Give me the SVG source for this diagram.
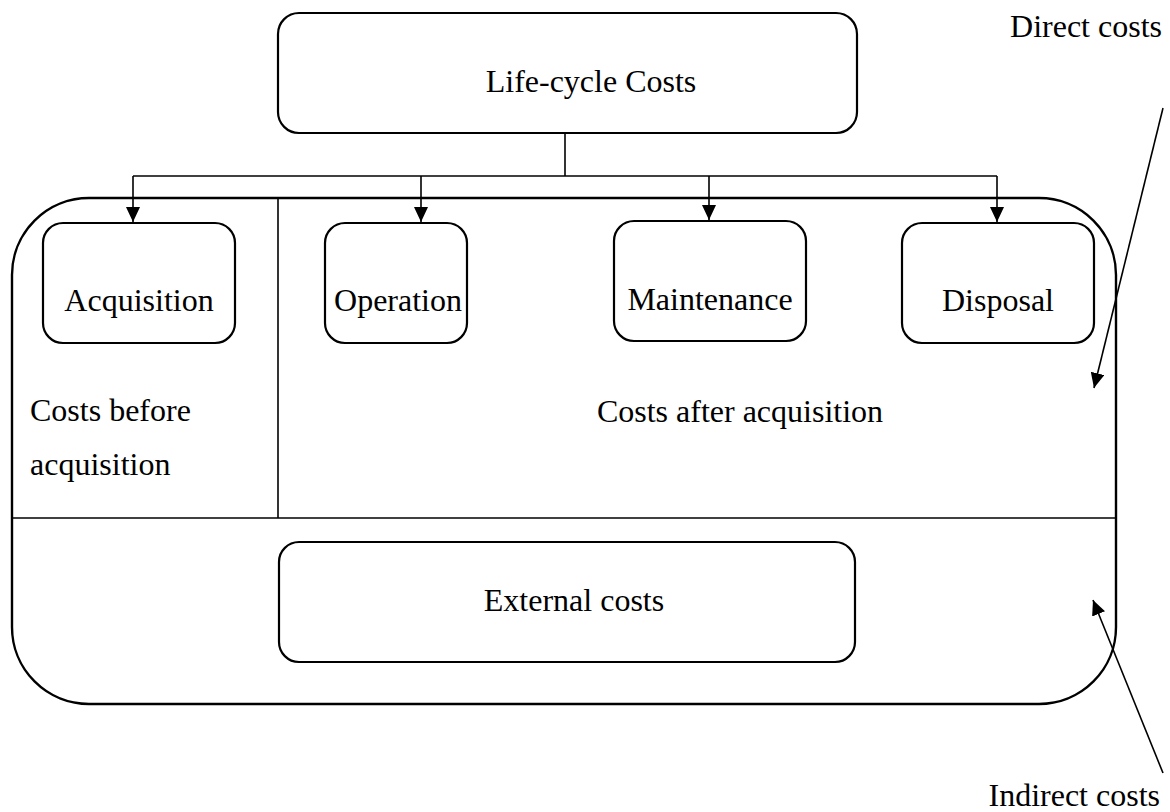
<svg xmlns="http://www.w3.org/2000/svg" width="1170" height="812" viewBox="0 0 1170 812">
  <defs>
    <marker id="head" viewBox="0 0 15 14" refX="15" refY="7" markerWidth="15" markerHeight="14" markerUnits="userSpaceOnUse" orient="auto">
      <path d="M0,0 L15,7 L0,14 Z" fill="#000"/>
    </marker>
    <style>
      .box { fill: #fff; stroke: #000; stroke-width: 2.2; }
      .frame { fill: none; stroke: #000; stroke-width: 2.4; }
      .div { fill: none; stroke: #000; stroke-width: 1.6; }
      .wire { fill: none; stroke: #000; stroke-width: 1.6; }
      text { font-family: "Liberation Serif", "Times New Roman", serif; font-size: 32px; fill: #000; }
    </style>
  </defs>
  <rect width="1170" height="812" fill="#fff"/>

  <!-- outer frame with its two dividers -->
  <g id="frame">
    <rect class="frame" x="12" y="198" width="1104" height="506" rx="77" ry="77"/>
    <line class="div" x1="12" y1="518" x2="1116" y2="518"/>
    <line class="div" x1="278" y1="198" x2="278" y2="518"/>
  </g>

  <g id="life-cycle">
    <rect class="box" x="278" y="13" width="579" height="120" rx="21" ry="21"/>
    <text x="591" y="92" text-anchor="middle">Life-cycle Costs</text>
  </g>

  <g id="acquisition">
    <rect class="box" x="43" y="223" width="192" height="120" rx="20" ry="20"/>
    <text x="139" y="311" text-anchor="middle">Acquisition</text>
  </g>

  <g id="operation">
    <rect class="box" x="325" y="223" width="142" height="120" rx="20" ry="20"/>
    <text x="398" y="311" text-anchor="middle">Operation</text>
  </g>

  <g id="maintenance">
    <rect class="box" x="614" y="221" width="192" height="120" rx="20" ry="20"/>
    <text x="710" y="310" text-anchor="middle">Maintenance</text>
  </g>

  <g id="disposal">
    <rect class="box" x="902" y="223" width="192" height="120" rx="20" ry="20"/>
    <text x="998" y="311" text-anchor="middle">Disposal</text>
  </g>

  <g id="external">
    <rect class="box" x="279" y="542" width="576" height="120" rx="20" ry="20"/>
    <text x="574" y="611" text-anchor="middle">External costs</text>
  </g>

  <g id="labels">
    <text x="30" y="421">Costs before</text>
    <text x="30" y="475">acquisition</text>
    <text x="740" y="422" text-anchor="middle">Costs after acquisition</text>
    <text x="1162" y="37" text-anchor="end">Direct costs</text>
    <text x="1160" y="806" text-anchor="end">Indirect costs</text>
  </g>

  <!-- connectors -->
  <g id="connectors">
    <polyline class="wire" points="565,133 565,176"/>
    <line class="wire" x1="133" y1="176" x2="997" y2="176"/>
    <line class="wire" x1="133" y1="176" x2="133" y2="222" marker-end="url(#head)"/>
    <line class="wire" x1="421" y1="176" x2="421" y2="222" marker-end="url(#head)"/>
    <line class="wire" x1="709" y1="176" x2="709" y2="220" marker-end="url(#head)"/>
    <line class="wire" x1="997" y1="176" x2="997" y2="222" marker-end="url(#head)"/>
    <line class="wire" x1="1163" y1="108" x2="1094" y2="388" marker-end="url(#head)"/>
    <line class="wire" x1="1163" y1="773" x2="1093" y2="600" marker-end="url(#head)"/>
  </g>
</svg>
